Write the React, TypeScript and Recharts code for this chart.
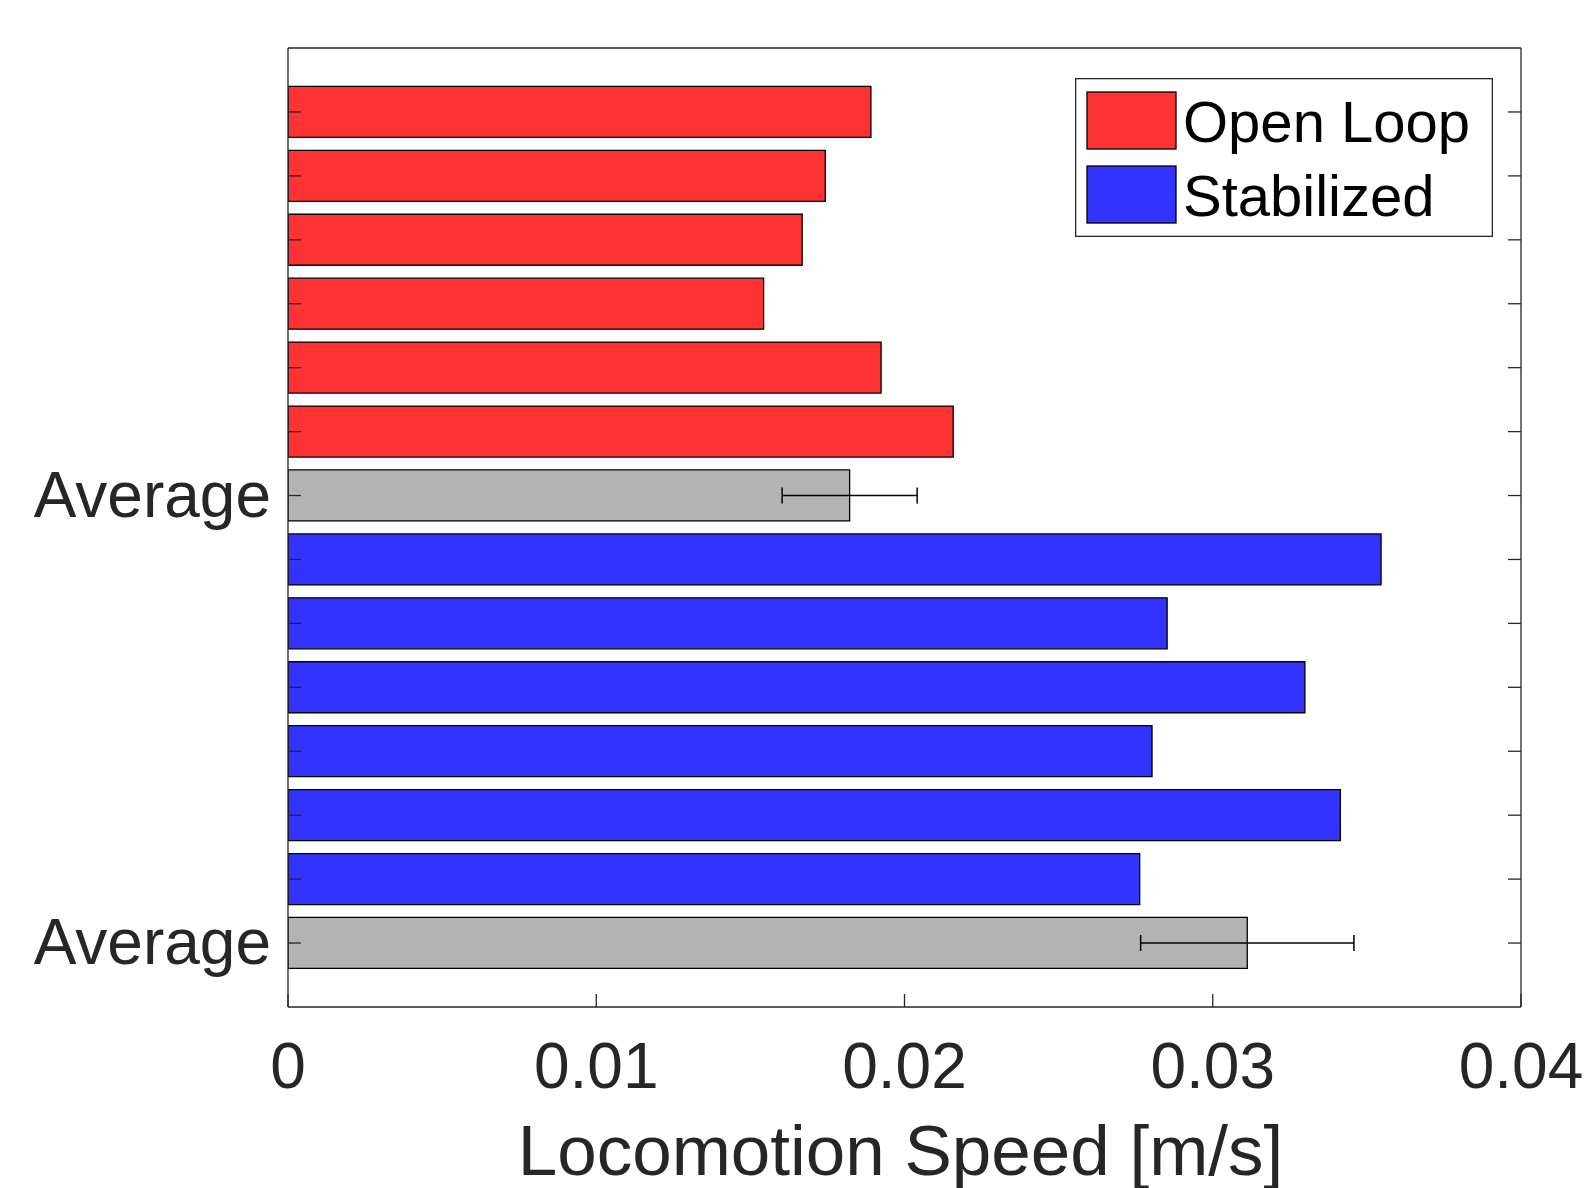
import React from 'react'
import { BarChart, Bar, XAxis, YAxis, Cell, ErrorBar, Legend } from 'recharts'

// bar order top to bottom
const categories = ['OL1', 'OL2', 'OL3', 'OL4', 'OL5', 'OL6', 'OLavg', 'ST1', 'ST2', 'ST3', 'ST4', 'ST5', 'ST6', 'STavg']
const yTickLabels = ['', '', '', '', '', '', 'Average', '', '', '', '', '', '', 'Average']
const openLoop = [0.01891, 0.01743, 0.01668, 0.01543, 0.01924, 0.02158]
const stabilized = [0.03546, 0.02852, 0.03299, 0.02803, 0.03414, 0.02763]
const averages = [0.01822, 0.03112]
const averageErrors = [0.00219, 0.00346]
const xTicks = [0, 0.01, 0.02, 0.03, 0.04]
const xTickLabels = ['0', '0.01', '0.02', '0.03', '0.04']
const seriesNames = ['Open Loop', 'Stabilized']

const RED = '#ff3333'
const BLUE = '#3333ff'
const GREY = '#b3b3b3'
const AXIS = '#262626'
const FONT = '"Liberation Sans", Arial, Helvetica, sans-serif'
const TICK_LEN = 13

const values = [...openLoop, averages[0], ...stabilized, averages[1]]
const errs = [...openLoop.map(() => null), averageErrors[0], ...stabilized.map(() => null), averageErrors[1]]
const fills = [...openLoop.map(() => RED), GREY, ...stabilized.map(() => BLUE), GREY]

const data = categories.map((cat, i) => ({ cat, value: values[i], err: errs[i] }))

const LeftTick = (props: any) => {
  const { x, y, index } = props
  return (
    <g>
      <line x1={x} x2={x + TICK_LEN} y1={y} y2={y} stroke={AXIS} strokeWidth={1.3} />
      <text x={x - 17} y={y + 21} textAnchor="end" fontSize={64} fontFamily={FONT} fill={AXIS}>
        {yTickLabels[index]}
      </text>
    </g>
  )
}

const RightTick = (props: any) => {
  const { x, y } = props
  return <line x1={x - TICK_LEN} x2={x} y1={y} y2={y} stroke={AXIS} strokeWidth={1.3} />
}

const BottomTick = (props: any) => {
  const { x, y, index } = props
  return (
    <g>
      <line x1={x} x2={x} y1={y} y2={y - TICK_LEN} stroke={AXIS} strokeWidth={1.3} />
      <text x={x} y={y + 81} textAnchor="middle" fontSize={64} fontFamily={FONT} fill={AXIS}>
        {xTickLabels[index]}
      </text>
    </g>
  )
}

const TopTick = (props: any) => {
  const { x, y } = props
  return <line x1={x} x2={x} y1={y} y2={y + TICK_LEN} stroke={AXIS} strokeWidth={1.3} />
}

const XLabel = (props: any) => {
  const { viewBox } = props
  const cx = viewBox.x + viewBox.width / 2 - 4
  return (
    <text x={cx} y={1175} textAnchor="middle" fontSize={71} fontFamily={FONT} fill={AXIS}>
      Locomotion Speed [m/s]
    </text>
  )
}

const LegendBox = () => (
  <svg width={418} height={159} style={{ display: 'block' }}>
    <rect x={0.65} y={0.65} width={416.7} height={157.7} fill="#fff" stroke={AXIS} strokeWidth={1.3} />
    {[RED, BLUE].map((c, i) => (
      <g key={i}>
        <rect x={12} y={14 + i * 74} width={89} height={57} fill={c} stroke="#000" strokeWidth={1.3} />
        <text x={108} y={64 + i * 74} fontSize={58} fontFamily={FONT} fill="#000">
          {seriesNames[i]}
        </text>
      </g>
    ))}
  </svg>
)

export default function App() {
  return (
    <div style={{ position: 'absolute', left: 0, top: 0, width: 1590, height: 1188, background: '#fff' }}>
      <BarChart
        width={1590}
        height={1188}
        data={data}
        layout="vertical"
        margin={{ top: 0, right: 0, bottom: 0, left: 0 }}
        barCategoryGap="10%"
      >
        <XAxis
          xAxisId="bottom"
          type="number"
          domain={[0, 0.04]}
          ticks={xTicks}
          height={181}
          tickSize={0}
          tickMargin={0}
          tickLine={false}
          tick={<BottomTick />}
          axisLine={{ stroke: AXIS, strokeWidth: 1.3 }}
          label={<XLabel />}
          allowDataOverflow
        />
        <XAxis
          xAxisId="top"
          orientation="top"
          type="number"
          domain={[0, 0.04]}
          ticks={xTicks}
          height={48}
          tickSize={0}
          tickMargin={0}
          tickLine={false}
          tick={<TopTick />}
          axisLine={{ stroke: AXIS, strokeWidth: 1.3 }}
        />
        <YAxis
          yAxisId="left"
          type="category"
          dataKey="cat"
          width={288}
          interval={0}
          padding={{ top: 32, bottom: 32 }}
          tickSize={0}
          tickMargin={0}
          tickLine={false}
          tick={<LeftTick />}
          axisLine={{ stroke: AXIS, strokeWidth: 1.3 }}
        />
        <YAxis
          yAxisId="right"
          orientation="right"
          type="category"
          dataKey="cat"
          width={69}
          interval={0}
          padding={{ top: 32, bottom: 32 }}
          tickSize={0}
          tickMargin={0}
          tickLine={false}
          tick={<RightTick />}
          axisLine={{ stroke: AXIS, strokeWidth: 1.3 }}
        />
        <Legend
          layout="vertical"
          align="center"
          verticalAlign="middle"
          content={<LegendBox />}
          wrapperStyle={{ position: 'absolute', left: 1075, top: 78, width: 418, height: 159 }}
        />
        <Bar
          dataKey="value"
          xAxisId="bottom"
          yAxisId="left"
          stroke="#000"
          strokeWidth={1.3}
          isAnimationActive={false}
        >
          {data.map((d, i) => (
            <Cell key={d.cat} fill={fills[i]} />
          ))}
          <ErrorBar dataKey="err" direction="x" width={8} stroke="#000" strokeWidth={1.5} isAnimationActive={false} />
        </Bar>
      </BarChart>
    </div>
  )
}
